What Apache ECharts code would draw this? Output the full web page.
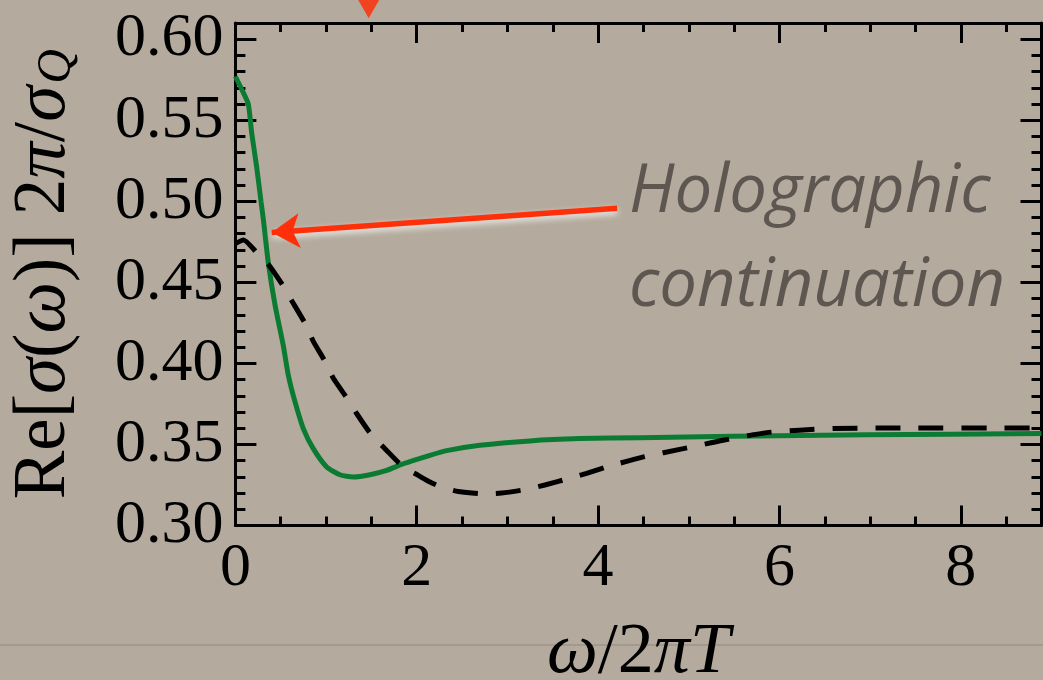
<!DOCTYPE html>
<html><head><meta charset="utf-8">
<script src="https://cdn.jsdelivr.net/npm/echarts@6/dist/echarts.min.js"></script>
<style>html,body{margin:0;padding:0;background:#b4ab9e}#c{width:1043px;height:680px}</style>
</head><body><div id="c"></div>
<script>
// ---- data ----
const greenX = [0, 0.07, 0.142, 0.18, 0.235, 0.282, 0.31, 0.363, 0.437, 0.528, 0.583, 0.657, 0.749, 0.859, 1.007, 1.153, 1.30, 1.484, 1.668, 1.851, 2.146, 2.33, 2.697, 3.248, 3.8, 4.46, 5.49, 6.96, 8.89];
const greenY = [0.577, 0.569, 0.560, 0.542, 0.521, 0.500, 0.488, 0.462, 0.436, 0.411, 0.3929, 0.3764, 0.3598, 0.3474, 0.3361, 0.3313, 0.3299, 0.3313, 0.334, 0.3381, 0.3433, 0.3462, 0.3495, 0.3522, 0.3536, 0.3542, 0.355, 0.356, 0.3567];
const dashX = [0, 0.09, 0.235, 0.363, 0.528, 0.62, 0.77, 0.859, 0.988, 1.08, 1.245, 1.337, 1.503, 1.649, 1.851, 2.017, 2.146, 2.275, 2.458, 2.752, 2.936, 3.21, 3.413, 3.689, 3.873, 4.149, 4.5, 4.94, 5.38, 5.86, 6.22, 6.59, 7.33, 8.89];
const dashY = [0.474, 0.4762, 0.4683, 0.4611, 0.4477, 0.4388, 0.4245, 0.4136, 0.4013, 0.3908, 0.3774, 0.3691, 0.3557, 0.3474, 0.3361, 0.3309, 0.3268, 0.3237, 0.3210, 0.3195, 0.3200, 0.3223, 0.3250, 0.3292, 0.3322, 0.3370, 0.3423, 0.3474, 0.3526, 0.3573, 0.3588, 0.3598, 0.3602, 0.3602];
const markerTop = [[1.47, 0.6194]];
const arrowFrom = [4.21, 0.4957];
const arrowTo = [0.40, 0.4807];
const annotationLines = ['Holographic', 'continuation'];
const xRange = [0, 8.89];
const yRange = [0.30, 0.61];

const zip = (a, b) => a.map((v, i) => [v, b[i]]);
const serif = "'Liberation Serif','DejaVu Serif','Times New Roman',serif";
const black = '#000';

function xAx(pos, interval, major) {
  return {
    type: 'value', position: pos, min: xRange[0], max: xRange[1], interval: interval,
    axisLine: { show: major, onZero: false, lineStyle: { color: black, width: 3 } },
    axisTick: { show: true, inside: true, length: major ? 20 : 9, lineStyle: { color: black, width: 3 } },
    splitLine: { show: false },
    axisLabel: { show: major && pos === 'bottom', showMaxLabel: false, margin: 12, fontFamily: serif, fontSize: 62, color: black,
      formatter: v => String(v) }
  };
}
function yAx(pos, interval, major) {
  return {
    type: 'value', position: pos, min: yRange[0], max: yRange[1], interval: interval,
    axisLine: { show: major, onZero: false, lineStyle: { color: black, width: 3 } },
    axisTick: { show: true, inside: true, length: major ? 21 : 10, lineStyle: { color: black, width: 3 } },
    splitLine: { show: false },
    axisLabel: { show: major && pos === 'left', showMaxLabel: false, margin: 12, fontFamily: serif, fontSize: 62, color: black,
      padding: [0, 0, 8, 0], formatter: v => v.toFixed(2) }
  };
}

const xMain = xAx('bottom', 2, true);
xMain.name = '{i|ω}{r|/2}{i|πT}';
xMain.nameLocation = 'middle';
xMain.nameGap = 92;
xMain.nameTextStyle = { rich: {
  i: { fontFamily: serif, fontStyle: 'italic', fontSize: 72, color: black },
  r: { fontFamily: serif, fontSize: 72, color: black } } };

const yMain = yAx('left', 0.05, true);
yMain.name = '{r|Re[}{i|σ}{r|(}{i|ω}{r|)] 2}{i|π}{r|/}{i|σ}{s|Q}';
yMain.nameLocation = 'middle';
yMain.nameRotate = 90;
yMain.nameGap = 154;
yMain.nameTextStyle = { rich: {
  i: { fontFamily: serif, fontStyle: 'italic', fontSize: 73, color: black, lineHeight: 73, verticalAlign: 'middle' },
  r: { fontFamily: serif, fontSize: 73, color: black, lineHeight: 73, verticalAlign: 'middle' },
  s: { fontFamily: serif, fontStyle: 'italic', fontSize: 48, color: black, lineHeight: 48, verticalAlign: 'bottom', padding: [34, 0, 0, 2] } } };

const annoFont = 'italic 400 67px "Open Sans", Lato, sans-serif';
const chart = echarts.init(document.getElementById('c'));
chart.setOption({
  animation: false,
  backgroundColor: '#b4ab9e',
  grid: { left: 235.4, top: 23, right: 1.5, bottom: 154.5, containLabel: false, outerBoundsMode: 'none' },
  xAxis: [xMain, xAx('bottom', 0.5, false), xAx('top', 2, true), xAx('top', 0.5, false)],
  yAxis: [yMain, yAx('left', 0.01, false), yAx('right', 0.05, true), yAx('right', 0.01, false)],
  graphic: [
    { type: 'line', shape: { x1: 0, y1: 645, x2: 1043, y2: 645 }, style: { stroke: 'rgba(110,100,90,0.3)', lineWidth: 1.5 }, z: 0 },
    { type: 'text', left: 629, top: 159, z: 10,
      style: { text: annotationLines[0], font: annoFont, fill: '#5e5650',
        shadowColor: 'rgba(255,255,255,0.85)', shadowBlur: 8 } },
    { type: 'text', left: 629, top: 253, z: 10,
      style: { text: annotationLines[1], font: annoFont, fill: '#5e5650',
        shadowColor: 'rgba(255,255,255,0.85)', shadowBlur: 8 } }
  ],
  series: [
    { type: 'line', data: zip(greenX, greenY), showSymbol: false, smooth: 0.2,
      lineStyle: { color: '#0b7b33', width: 5 }, z: 3,
      markLine: { silent: true, symbol: ['none', 'arrow'], symbolSize: [26, 28],
        lineStyle: { color: '#ff2f0a', width: 5.5, type: 'solid', shadowColor: 'rgba(255,255,255,0.8)', shadowBlur: 6, shadowOffsetY: 3 },
        label: { show: false },
        data: [[{ coord: arrowFrom }, { coord: arrowTo }]] } },
    { type: 'line', data: zip(dashX, dashY), showSymbol: false, smooth: 0.2,
      lineStyle: { color: black, width: 5, type: [25, 18], cap: 'butt' }, z: 4 },
    { type: 'scatter', data: markerTop, clip: false, symbol: 'triangle', symbolRotate: 180, symbolSize: [24, 21],
      itemStyle: { color: '#ff2a00' }, z: 6 }
  ]
});
</script></body></html>
